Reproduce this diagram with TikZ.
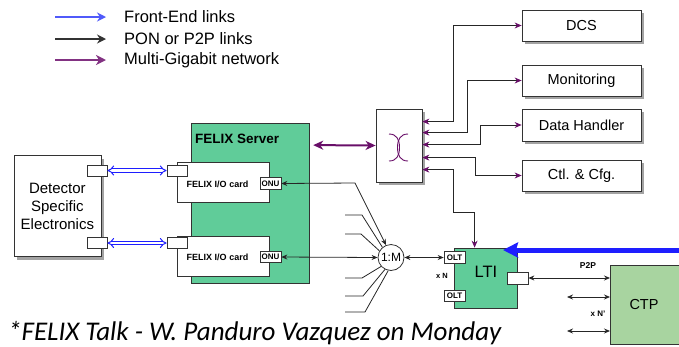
\documentclass[tikz,border=0pt]{standalone}
\usepackage{fontspec}
\setmainfont{Liberation Sans}
\newfontfamily\capfont{Carlito}
\usetikzlibrary{arrows.meta,shadows,calc}
\definecolor{fxgreen}{RGB}{96,204,153}
\definecolor{ctpgreen}{RGB}{168,212,160}
\definecolor{mgpurple}{RGB}{105,15,105}
\definecolor{legpurple}{RGB}{130,50,130}
\definecolor{feblue}{RGB}{30,30,255}
\definecolor{legblue}{RGB}{80,90,250}
\newcommand{\myfs}[1]{\fontsize{#1}{#1}\selectfont}
\begin{document}
\begin{tikzpicture}[x=1pt,y=-1pt,
 box/.style={draw=black!80, line width=0.8pt, fill=white, inner sep=0pt, align=center},
 shbox/.style={box, drop shadow={shadow xshift=3pt, shadow yshift=-3pt, fill=black!45, opacity=0.8}},
 port/.style={draw=black!80, line width=0.7pt, fill=white, minimum width=20pt, minimum height=11pt, inner sep=0pt},
 tag/.style={draw=black!80, line width=0.6pt, fill=white, minimum width=21pt, minimum height=11.5pt, inner sep=0pt, font=\bfseries\myfs{8}},
 conn/.style={black!85, line width=0.8pt},
 bl/.style={conn, {Stealth[length=6pt,width=5pt]}-{Stealth[length=6pt,width=5pt]}},
 pl/.style={conn, {Stealth[length=7pt,width=6pt,color=mgpurple]}-{Stealth[length=7pt,width=6pt,color=mgpurple]}},
 fe/.style={draw=feblue, line width=1pt, double=white, double distance=2.4pt, {Implies}-{Implies}},
 mg/.style={draw=mgpurple, line width=2pt, {Stealth[length=10pt,width=9pt,inset=3pt]}-{Stealth[length=10pt,width=9pt,inset=3pt]}},
 lbl/.style={inner sep=0pt}
]
\useasboundingbox (0,0) rectangle (679,346);
\clip (0,0) rectangle (679,346);

% legend
\coordinate (l1a) at (55,17); \coordinate (l1b) at (106,17);
\coordinate (l2a) at (55,39); \coordinate (l2b) at (106,39);
\coordinate (l3a) at (55,60); \coordinate (l3b) at (106,60);
\draw[legblue, line width=1.2pt, -{Stealth[length=9pt,width=9pt,inset=3pt]}] (l1a) -- (l1b);
\draw[black!80, line width=1.2pt, -{Stealth[length=9pt,width=9pt,inset=3pt]}] (l2a) -- (l2b);
\draw[legpurple, line width=2pt, -{Stealth[length=10pt,width=10pt,inset=3pt]}] (l3a) -- (l3b);
\node[lbl, anchor=west, font=\myfs{16.5}] (t1) at (124,17) {Front-End links};
\node[lbl, anchor=west, font=\myfs{16.5}] (t2) at (124,39) {PON or P2P links};
\node[lbl, anchor=west, font=\myfs{16.5}] (t3) at (124,60) {Multi-Gigabit network};

% detector
\node[shbox, minimum width=87pt, minimum height=101pt, font=\myfs{15}] (det) at (57.4,206.3) {\rule{0pt}{10pt}Detector\\[3pt]Specific\\[3pt]Electronics};
\node[port] (dp1) at (97,170.5) {};
\node[port] (dp2) at (97,243) {};

% FELIX server
\node[draw=black!80, line width=0.8pt, fill=fxgreen, minimum width=118pt, minimum height=160pt] (srv) at (250.8,203) {};
\node[lbl, anchor=west, font=\bfseries\myfs{13.5}] (srvt) at (195,139) {FELIX Server};
\node[box, minimum width=92pt, minimum height=40pt] (c1) at (223,182.5) {};
\node[box, minimum width=92pt, minimum height=40pt] (c2) at (223,256) {};
\node[port] (cp1) at (177,170.5) {};
\node[port] (cp2) at (177,243) {};
\node[lbl, font=\bfseries\myfs{9}] (c1t) at (217.5,184) {FELIX I/O card};
\node[lbl, font=\bfseries\myfs{9}] (c2t) at (217.5,257.5) {FELIX I/O card};
\node[tag] (onu1) at (270.5,183.5) {ONU};
\node[tag] (onu2) at (270.5,257) {ONU};

% front-end links
\draw[fe] (dp1.east) -- (cp1.west);
\draw[fe] (dp2.east) -- (cp2.west);

% switch
\node[shbox, minimum width=46pt, minimum height=73pt] (sw) at (399,145.5) {};
\draw[mgpurple, line width=0.9pt] (389,134) .. controls (397,134) and (399.5,140) .. (399.5,147.5) .. controls (399.5,155) and (397,161) .. (389,161);
\draw[mgpurple, line width=0.9pt] (408,134) .. controls (400,134) and (397.5,140) .. (397.5,147.5) .. controls (397.5,155) and (400,161) .. (408,161);
\draw[mg] ($(srv.north east)+(3,22.5)$) -- (sw.west);

% right boxes
\node[shbox, minimum width=119pt, minimum height=31pt, font=\myfs{14.5}] (dcs) at (581.5,25.5) {DCS};
\node[shbox, minimum width=119pt, minimum height=31pt, font=\myfs{14.5}] (mon) at (581.5,80.5) {Monitoring};
\node[shbox, minimum width=119pt, minimum height=32pt, font=\myfs{14.5}] (dh) at (581.5,125) {Data Handler};
\node[shbox, minimum width=119pt, minimum height=31pt, font=\myfs{14.5}] (ctl) at (581.5,175.5) {Ctl. \& Cfg.};

% LTI and CTP
\node[draw=black!80, line width=0.8pt, fill=fxgreen, minimum width=63pt, minimum height=60pt] (lti) at (485.5,278) {};
\node[lbl, font=\myfs{16.5}] (ltit) at (486,272) {LTI};
\node[tag] (olt1) at (454.5,257.5) {OLT};
\node[tag] (olt2) at (454.5,296) {OLT};
\node[port, minimum width=21pt, minimum height=12pt] (ltip) at (517.5,278) {};
\node[lbl, font=\bfseries\myfs{7.5}] (xn) at (442,276) {x N};
\node[draw=black!80, line width=0.8pt, fill=ctpgreen, minimum width=80pt, minimum height=79pt, anchor=north west] (ctp) at (610,265) {};
\node[lbl, font=\myfs{14.5}] (ctpt) at (644,305) {CTP};
\node[lbl, font=\bfseries\myfs{8.5}] (p2p) at (588,266) {P2P};
\node[lbl, font=\bfseries\myfs{8}] (xnp) at (598,314) {x N'};

% switch connectors
\draw[pl] ($(sw.north east)+(0,13)$) -| (453,25.5) -- (dcs.west);
\draw[pl] ($(sw.north east)+(0,24)$) -| (467,80.5) -- (mon.west);
\draw[pl] ($(sw.north east)+(0,36)$) -| (480,125) -- (dh.west);
\draw[pl] ($(sw.north east)+(0,49)$) -| (475,175.5) -- (ctl.west);
\draw[pl] ($(sw.north east)+(0,61)$) -| (453,212) -| ($(lti.north west)+(21,0)$);

% blue thick link into LTI
\coordinate (bin) at (679,250);
\coordinate (btip) at (503,250);
\draw[feblue, line width=5pt, -{Stealth[length=15pt,width=15pt,inset=2pt]}] (bin) -- (btip);

% 1:M splitter
\node[draw=black!80, line width=0.8pt, fill=white, circle, minimum size=26pt, inner sep=0pt, font=\myfs{12}] (m) at (391,257.5) {1:M};
\draw[bl] (onu1.east) -- (355,183) -- (m.112);
\draw[bl] (onu2.east) -- (m.west);
\draw[bl] (m.east) -- (olt1.west);
\draw[conn] (345,215) -- (362,215) -- (m.130);
\draw[conn] (345,234) -- (361,234) -- (m.150);
\draw[conn] (345,278) -- (362,278) -- (m.222);
\draw[conn] (345,296) -- (363,296) -- (m.243);
\draw[conn] (345,312) -- (365,312) -- (m.258);

% LTI to CTP
\draw[bl] (ltip.east) -- (ctp.west |- ltip.east);
\coordinate (a1) at (567,297); \coordinate (a2) at (567,331);
\draw[bl] (a1) -- (ctp.west |- a1);
\draw[bl] (a2) -- (ctp.west |- a2);

% caption
\node[lbl, anchor=base west, font=\capfont\itshape\myfs{27}] (cap) at (8,340) {*FELIX Talk - W. Panduro Vazquez on Monday};
\end{tikzpicture}
\end{document}
